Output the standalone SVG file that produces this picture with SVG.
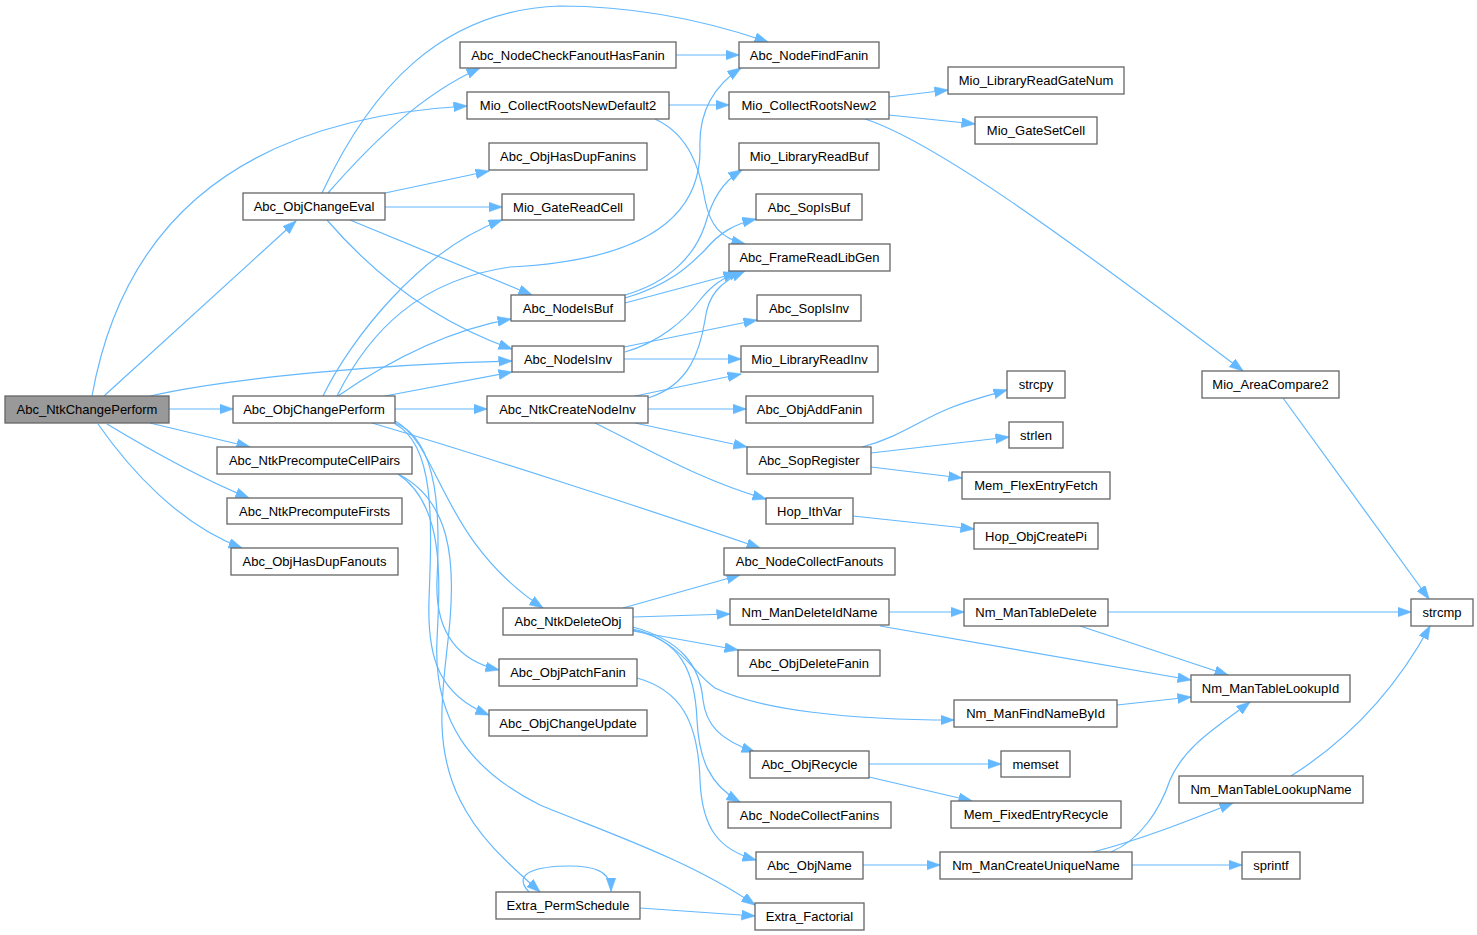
<svg xmlns="http://www.w3.org/2000/svg" width="1477" height="935" viewBox="0 0 1477 935">
<defs>
<marker id="a" markerWidth="14" markerHeight="11" refX="13.5" refY="5" orient="auto" markerUnits="userSpaceOnUse"><path d="M0,0 L14,5 L0,10 z" fill="#63b8ff" stroke="#63b8ff" stroke-width="0.5"/></marker>
<style>
.n rect{fill:#fff;stroke:#666;stroke-width:1.3}
.n text{font-family:"Liberation Sans",Arial,sans-serif;font-size:13px;text-anchor:middle;fill:#000}
#n0 rect{fill:#999}
#edges path{fill:none;stroke:#63b8ff;stroke-width:1.2;marker-end:url(#a)}
</style>
</defs>
<rect width="1477" height="935" fill="#fff"/>
<g id="edges">
<path d="M92,396 C120,240 220,120 467,106"/>
<path d="M104,396 L296,221"/>
<path d="M150,396 C230,378 380,364 512,361"/>
<path d="M169,409 L233,409"/>
<path d="M150,423 L250,447"/>
<path d="M107,424 C150,450 200,478 249,498"/>
<path d="M98,424 C130,470 180,525 242,548"/>
<path d="M322,193 C370,90 440,10 560,6 C640,6 710,22 768,42"/>
<path d="M328,193 C370,145 420,95 480,68"/>
<path d="M385,193 L489,171"/>
<path d="M385,207 L502,207"/>
<path d="M350,220 L532,295"/>
<path d="M327,220 C370,270 430,320 512,349"/>
<path d="M323,396 C350,340 420,250 502,220"/>
<path d="M337,396 C370,330 420,280 510,267 C610,262 700,235 700,150 C698,110 715,85 741,68"/>
<path d="M338,396 C390,360 450,330 511,319"/>
<path d="M385,396 L512,372"/>
<path d="M395,409 L487,409"/>
<path d="M372,423 C480,455 650,510 760,548"/>
<path d="M395,421 C440,445 440,540 543,608"/>
<path d="M395,423 C440,440 440,520 437,580 C435,630 455,660 499,670"/>
<path d="M395,424 C435,445 432,520 429,600 C427,660 440,695 489,715"/>
<path d="M398,474 C445,505 440,580 437,640 C433,720 470,770 540,805 C600,830 690,860 755,905"/>
<path d="M398,474 C450,500 455,560 450,620 C445,680 430,740 460,800 C480,840 510,865 540,892"/>
<path d="M623,608 L740,575"/>
<path d="M633,617 L730,614"/>
<path d="M633,631 L738,650"/>
<path d="M633,630 C680,640 690,670 715,688 C760,710 850,720 954,720"/>
<path d="M633,627 C680,640 700,665 703,700 C706,725 720,740 755,752"/>
<path d="M633,629 C680,640 695,670 697,720 C699,760 710,785 740,802"/>
<path d="M637,678 C680,690 698,720 700,780 C702,830 720,850 756,860"/>
<path d="M863,865 L940,865"/>
<path d="M869,764 L1001,764"/>
<path d="M869,777 L972,801"/>
<path d="M889,612 L964,612"/>
<path d="M880,626 L1191,680"/>
<path d="M1108,612 L1411,612"/>
<path d="M1080,626 L1228,675"/>
<path d="M1117,705 L1191,697"/>
<path d="M1111,852 C1140,840 1160,810 1170,780 C1185,745 1220,725 1250,702"/>
<path d="M1093,852 C1140,840 1190,820 1233,803"/>
<path d="M1132,865 L1242,865"/>
<path d="M1291,776 C1340,745 1390,700 1430,626"/>
<path d="M1283,398 L1429,599"/>
<path d="M889,97 L948,90"/>
<path d="M889,115 L975,124"/>
<path d="M865,119 C930,140 1050,225 1243,371"/>
<path d="M862,447 C900,437 920,420 950,408 C970,400 990,395 1007,390"/>
<path d="M871,453 L1009,437"/>
<path d="M871,467 L962,478"/>
<path d="M853,516 L974,529"/>
<path d="M635,396 L741,374"/>
<path d="M625,352 C660,342 685,320 700,300 C712,285 722,278 742,271"/>
<path d="M648,398 C690,385 700,350 705,320 C708,295 720,282 745,271"/>
<path d="M648,409 L746,409"/>
<path d="M635,423 L747,447"/>
<path d="M595,423 C650,450 700,480 766,499"/>
<path d="M625,295 C670,282 695,255 705,225 C712,200 722,182 742,170"/>
<path d="M625,298 C670,285 690,265 705,250 C720,232 735,224 756,219"/>
<path d="M625,303 L737,273"/>
<path d="M655,119 C690,135 700,170 705,200 C710,225 720,238 745,244"/>
<path d="M669,105 L729,105"/>
<path d="M676,55 L739,55"/>
<path d="M624,347 L757,320"/>
<path d="M624,359 L741,359"/>
<path d="M640,908 L755,916"/>
<path d="M529,892 C510,872 540,866 570,866 C592,866 611,870 611,891"/>
</g>
<g id="n0" class="n"><rect x="5" y="396" width="164" height="27"/><text x="87" y="414">Abc_NtkChangePerform</text></g>
<g id="n1" class="n"><rect x="243" y="193" width="142" height="27"/><text x="314" y="211">Abc_ObjChangeEval</text></g>
<g id="n2" class="n"><rect x="460" y="42" width="216" height="26"/><text x="568" y="59.5">Abc_NodeCheckFanoutHasFanin</text></g>
<g id="n3" class="n"><rect x="739" y="42" width="140" height="26"/><text x="809" y="59.5">Abc_NodeFindFanin</text></g>
<g id="n4" class="n"><rect x="467" y="92" width="202" height="27"/><text x="568" y="110">Mio_CollectRootsNewDefault2</text></g>
<g id="n5" class="n"><rect x="729" y="92" width="160" height="27"/><text x="809" y="110">Mio_CollectRootsNew2</text></g>
<g id="n6" class="n"><rect x="948" y="67" width="176" height="27"/><text x="1036" y="85">Mio_LibraryReadGateNum</text></g>
<g id="n7" class="n"><rect x="975" y="117" width="122" height="27"/><text x="1036" y="135">Mio_GateSetCell</text></g>
<g id="n8" class="n"><rect x="489" y="143" width="158" height="27"/><text x="568" y="161">Abc_ObjHasDupFanins</text></g>
<g id="n9" class="n"><rect x="739" y="143" width="140" height="27"/><text x="809" y="161">Mio_LibraryReadBuf</text></g>
<g id="n10" class="n"><rect x="502" y="194" width="132" height="26"/><text x="568" y="211.5">Mio_GateReadCell</text></g>
<g id="n11" class="n"><rect x="756" y="194" width="106" height="26"/><text x="809" y="211.5">Abc_SopIsBuf</text></g>
<g id="n12" class="n"><rect x="729" y="244" width="161" height="27"/><text x="809.5" y="262">Abc_FrameReadLibGen</text></g>
<g id="n13" class="n"><rect x="511" y="295" width="114" height="26"/><text x="568" y="312.5">Abc_NodeIsBuf</text></g>
<g id="n14" class="n"><rect x="757" y="295" width="104" height="26"/><text x="809" y="312.5">Abc_SopIsInv</text></g>
<g id="n15" class="n"><rect x="512" y="346" width="112" height="26"/><text x="568" y="363.5">Abc_NodeIsInv</text></g>
<g id="n16" class="n"><rect x="741" y="346" width="137" height="26"/><text x="809.5" y="363.5">Mio_LibraryReadInv</text></g>
<g id="n17" class="n"><rect x="233" y="396" width="162" height="27"/><text x="314" y="414">Abc_ObjChangePerform</text></g>
<g id="n18" class="n"><rect x="487" y="396" width="161" height="27"/><text x="567.5" y="414">Abc_NtkCreateNodeInv</text></g>
<g id="n19" class="n"><rect x="746" y="396" width="127" height="27"/><text x="809.5" y="414">Abc_ObjAddFanin</text></g>
<g id="n20" class="n"><rect x="1007" y="371" width="58" height="27"/><text x="1036" y="389">strcpy</text></g>
<g id="n21" class="n"><rect x="1202" y="371" width="137" height="27"/><text x="1270.5" y="389">Mio_AreaCompare2</text></g>
<g id="n22" class="n"><rect x="1009" y="422" width="54" height="26"/><text x="1036" y="439.5">strlen</text></g>
<g id="n23" class="n"><rect x="217" y="447" width="195" height="27"/><text x="314.5" y="465">Abc_NtkPrecomputeCellPairs</text></g>
<g id="n24" class="n"><rect x="747" y="447" width="124" height="27"/><text x="809" y="465">Abc_SopRegister</text></g>
<g id="n25" class="n"><rect x="962" y="472" width="148" height="27"/><text x="1036" y="490">Mem_FlexEntryFetch</text></g>
<g id="n26" class="n"><rect x="227" y="498" width="175" height="26"/><text x="314.5" y="515.5">Abc_NtkPrecomputeFirsts</text></g>
<g id="n27" class="n"><rect x="766" y="498" width="87" height="26"/><text x="809.5" y="515.5">Hop_IthVar</text></g>
<g id="n28" class="n"><rect x="974" y="523" width="124" height="26"/><text x="1036" y="540.5">Hop_ObjCreatePi</text></g>
<g id="n29" class="n"><rect x="231" y="548" width="167" height="27"/><text x="314.5" y="566">Abc_ObjHasDupFanouts</text></g>
<g id="n30" class="n"><rect x="724" y="548" width="171" height="27"/><text x="809.5" y="566">Abc_NodeCollectFanouts</text></g>
<g id="n31" class="n"><rect x="730" y="599" width="159" height="26"/><text x="809.5" y="616.5">Nm_ManDeleteIdName</text></g>
<g id="n32" class="n"><rect x="964" y="599" width="144" height="27"/><text x="1036" y="617">Nm_ManTableDelete</text></g>
<g id="n33" class="n"><rect x="1411" y="599" width="62" height="27"/><text x="1442" y="617">strcmp</text></g>
<g id="n34" class="n"><rect x="503" y="608" width="130" height="27"/><text x="568" y="626">Abc_NtkDeleteObj</text></g>
<g id="n35" class="n"><rect x="738" y="650" width="142" height="26"/><text x="809" y="667.5">Abc_ObjDeleteFanin</text></g>
<g id="n36" class="n"><rect x="499" y="659" width="138" height="27"/><text x="568" y="677">Abc_ObjPatchFanin</text></g>
<g id="n37" class="n"><rect x="1191" y="675" width="159" height="27"/><text x="1270.5" y="693">Nm_ManTableLookupId</text></g>
<g id="n38" class="n"><rect x="954" y="700" width="163" height="27"/><text x="1035.5" y="718">Nm_ManFindNameById</text></g>
<g id="n39" class="n"><rect x="489" y="710" width="158" height="26"/><text x="568" y="727.5">Abc_ObjChangeUpdate</text></g>
<g id="n40" class="n"><rect x="750" y="751" width="119" height="27"/><text x="809.5" y="769">Abc_ObjRecycle</text></g>
<g id="n41" class="n"><rect x="1001" y="751" width="69" height="26"/><text x="1035.5" y="768.5">memset</text></g>
<g id="n42" class="n"><rect x="1179" y="776" width="184" height="27"/><text x="1271" y="794">Nm_ManTableLookupName</text></g>
<g id="n43" class="n"><rect x="951" y="801" width="170" height="27"/><text x="1036" y="819">Mem_FixedEntryRecycle</text></g>
<g id="n44" class="n"><rect x="728" y="802" width="163" height="26"/><text x="809.5" y="819.5">Abc_NodeCollectFanins</text></g>
<g id="n45" class="n"><rect x="756" y="852" width="107" height="27"/><text x="809.5" y="870">Abc_ObjName</text></g>
<g id="n46" class="n"><rect x="940" y="852" width="192" height="27"/><text x="1036" y="870">Nm_ManCreateUniqueName</text></g>
<g id="n47" class="n"><rect x="1242" y="852" width="58" height="27"/><text x="1271" y="870">sprintf</text></g>
<g id="n48" class="n"><rect x="496" y="892" width="144" height="27"/><text x="568" y="910">Extra_PermSchedule</text></g>
<g id="n49" class="n"><rect x="755" y="903" width="109" height="27"/><text x="809.5" y="921">Extra_Factorial</text></g>
</svg>
